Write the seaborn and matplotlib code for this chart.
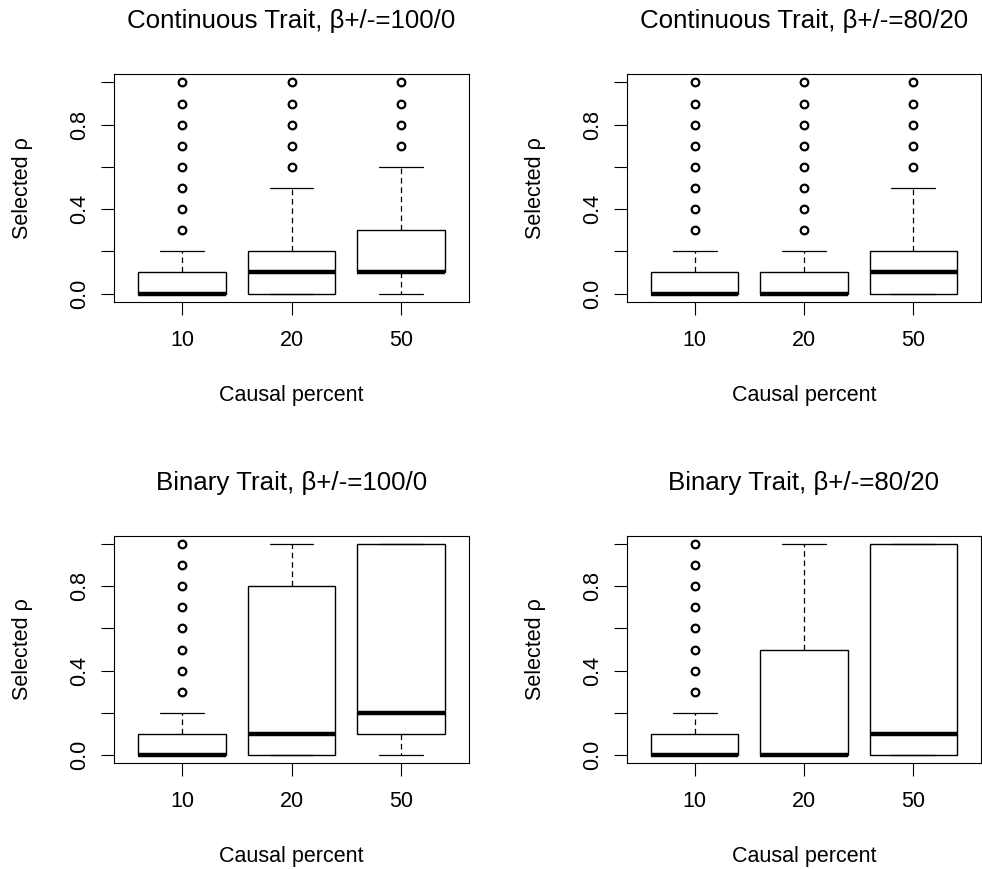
import numpy as np
import pandas as pd
import matplotlib
matplotlib.use("Agg")
import matplotlib.pyplot as plt
import seaborn as sns

# --- data: frequency of each selected rho value per causal-percent group ---
RHO_LEVELS = [0.0, 0.1, 0.2, 0.3, 0.4, 0.5, 0.6, 0.7, 0.8, 0.9, 1.0]
CAUSAL = ["10", "20", "50"]
TITLES = [
    "Continuous Trait, \u03b2+/-=100/0",
    "Continuous Trait, \u03b2+/-=80/20",
    "Binary Trait, \u03b2+/-=100/0",
    "Binary Trait, \u03b2+/-=80/20",
]

# counts over RHO_LEVELS, one list per causal percent (10, 20, 50)
cont_100_0 = [
    [21, 10, 2, 1, 1, 1, 1, 1, 1, 1, 1],
    [11, 10, 10, 2, 2, 1, 1, 1, 1, 1, 1],
    [3, 18, 5, 5, 2, 2, 2, 1, 1, 1, 1],
]
cont_80_20 = [
    [21, 10, 2, 1, 1, 1, 1, 1, 1, 1, 1],
    [21, 10, 2, 1, 1, 1, 1, 1, 1, 1, 1],
    [11, 10, 10, 2, 2, 1, 1, 1, 1, 1, 1],
]
bin_100_0 = [
    [21, 10, 2, 1, 1, 1, 1, 1, 1, 1, 1],
    [11, 10, 2, 1, 1, 1, 1, 1, 3, 5, 5],
    [3, 8, 10, 1, 1, 1, 1, 1, 1, 1, 13],
]
bin_80_20 = [
    [21, 10, 2, 1, 1, 1, 1, 1, 1, 1, 1],
    [21, 2, 2, 2, 2, 2, 2, 2, 2, 2, 2],
    [11, 10, 1, 1, 1, 1, 1, 1, 1, 1, 12],
]
PANELS = [cont_100_0, cont_80_20, bin_100_0, bin_80_20]

rows = []
for p, panel in enumerate(PANELS):
    for grp, counts in zip(CAUSAL, panel):
        for val in np.repeat(RHO_LEVELS, counts):
            rows.append({"panel": p, "causal": grp, "rho": val})
df = pd.DataFrame(rows)

# --- style (R base-graphics look) ---
sns.set_style("ticks")
plt.rcParams["font.family"] = ["Liberation Sans", "DejaVu Sans"]
plt.rcParams["text.color"] = "black"
plt.rcParams["axes.labelcolor"] = "black"
plt.rcParams["xtick.color"] = "black"
plt.rcParams["ytick.color"] = "black"
plt.rcParams["axes.linewidth"] = 0.8
plt.rcParams["axes.edgecolor"] = "black"

W, H = 982, 869
fig = plt.figure(figsize=(W / 100, H / 100), dpi=100)
fig.patch.set_facecolor("white")

# axes boxes in pixels: (left, top, right, bottom)
boxes = [(114, 74, 469, 302), (627, 74, 981, 302),
         (114, 536, 469, 763), (627, 536, 981, 763)]

for p, (l, t, r, b) in enumerate(boxes):
    ax = fig.add_axes([l / W, 1 - b / H, (r - l) / W, (b - t) / H])
    sub = df[df["panel"] == p]
    sns.boxplot(
        data=sub, x="causal", y="rho", order=CAUSAL, ax=ax,
        color="white", linecolor="black", linewidth=1.0, width=0.8,
        whis=1.501, capwidths=0.4, fliersize=5.5,
        boxprops=dict(facecolor="white", edgecolor="black", linewidth=1.0),
        medianprops=dict(color="black", linewidth=3.2, solid_capstyle="butt"),
        whiskerprops=dict(color="black", linewidth=0.9, linestyle=(0, (4.5, 3))),
        capprops=dict(color="black", linewidth=0.9),
        flierprops=dict(marker="o", markerfacecolor="none", markeredgecolor="black",
                        markersize=5.5, markeredgewidth=1.6),
    )
    ax.set_xlim(-0.62, 2.62)
    ax.set_ylim(-0.04, 1.04)
    ax.set_yticks([0.0, 0.2, 0.4, 0.6, 0.8, 1.0])
    ax.set_yticklabels(["0.0", "", "0.4", "", "0.8", ""], rotation=90, va="center")
    ax.tick_params(axis="both", length=9.4, width=0.8, labelsize=15.5,
                   color="black", labelcolor="black", direction="out")
    ax.tick_params(axis="x", pad=11)
    ax.tick_params(axis="y", pad=8)
    for s in ax.spines.values():
        s.set_visible(True)
        s.set_linewidth(0.8)
    ax.set_xlabel("Causal percent", fontsize=15.5, labelpad=24, color="black")
    ax.set_ylabel("Selected \u03c1", fontsize=15.5, labelpad=25.5, color="black")
    ax.annotate(TITLES[p], xy=(0.5, 1), xycoords="axes fraction",
                xytext=(0, 38), textcoords="offset points",
                ha="center", va="center", fontsize=18.6, color="black")

fig.savefig("out.png", dpi=100, facecolor="white")
